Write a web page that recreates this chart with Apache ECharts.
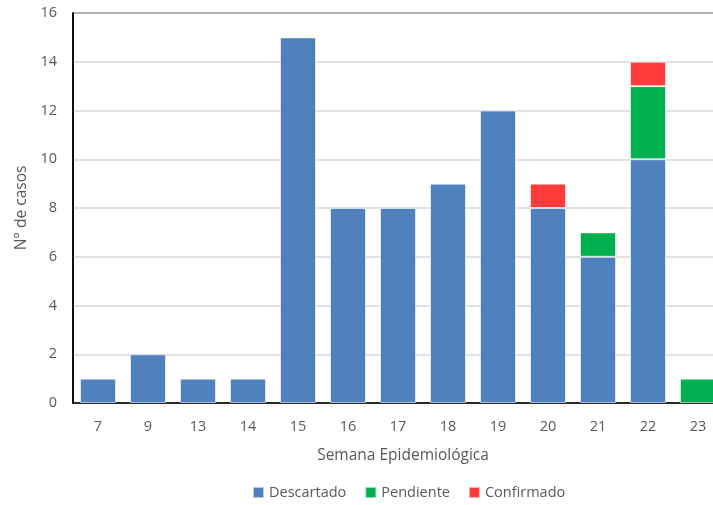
<!DOCTYPE html>
<html>
<head>
<meta charset="utf-8">
<script src="https://cdn.jsdelivr.net/npm/echarts@6/dist/echarts.min.js"></script>
<style>html,body{margin:0;padding:0;background:#fff;overflow:hidden}#c{width:724px;height:505px}</style>
</head>
<body>
<div id="c"></div>
<script>
const categories = ['7','9','13','14','15','16','17','18','19','20','21','22','23'];
const descartado = [1,2,1,1,15,8,8,9,12,8,6,10,null];
const pendiente  = [null,null,null,null,null,null,null,null,null,null,1,3,1];
const confirmado = [null,null,null,null,null,null,null,null,null,1,null,1,null];
const yTicks = {min:0, max:16, interval:2};

const font = '"Open Sans", "Noto Sans", sans-serif';
const chart = echarts.init(document.getElementById('c'));
const barStyle = c => ({color:c, borderColor:'rgba(255,255,255,0.6)', borderWidth:1});
chart.setOption({
  animation:false,
  textStyle:{fontFamily:font},
  grid:{left:73, top:13, width:650, height:390, show:true, borderColor:'#000', borderWidth:1.5, backgroundColor:'transparent'},
  legend:{
    bottom:0, left:247, itemWidth:11, itemHeight:11, itemGap:18,
    icon:'rect',
    textStyle:{fontSize:14.5, color:'#595959', fontFamily:font},
    data:['Descartado','Pendiente','Confirmado']
  },
  xAxis:{
    type:'category', data:categories,
    name:'Semana Epidemiológica', nameLocation:'middle', nameGap:45,
    nameTextStyle:{fontSize:15.5, color:'#595959', padding:[0,0,0,10]},
    axisLine:{lineStyle:{color:'#000', width:1.5}},
    axisTick:{show:false},
    axisLabel:{fontSize:14.5, color:'#595959', margin:16}
  },
  yAxis:{
    type:'value', min:yTicks.min, max:yTicks.max, interval:yTicks.interval,
    name:'N° de casos', nameLocation:'middle', nameGap:41,
    nameTextStyle:{fontSize:15.5, color:'#595959'},
    axisLine:{show:true, lineStyle:{color:'#000', width:1.5}},
    axisTick:{show:false},
    axisLabel:{fontSize:14.5, color:'#595959', margin:16},
    splitLine:{lineStyle:{color:'#d9d9d9', width:1.5}}
  },
  series:[
    {name:'Descartado', type:'bar', stack:'a', data:descartado, barCategoryGap:'28%', itemStyle:barStyle('#4F81BD')},
    {name:'Pendiente', type:'bar', stack:'a', data:pendiente, itemStyle:barStyle('#00B050')},
    {name:'Confirmado', type:'bar', stack:'a', data:confirmado, itemStyle:barStyle('#FF3B3B')}
  ]
});
</script>
</body>
</html>
